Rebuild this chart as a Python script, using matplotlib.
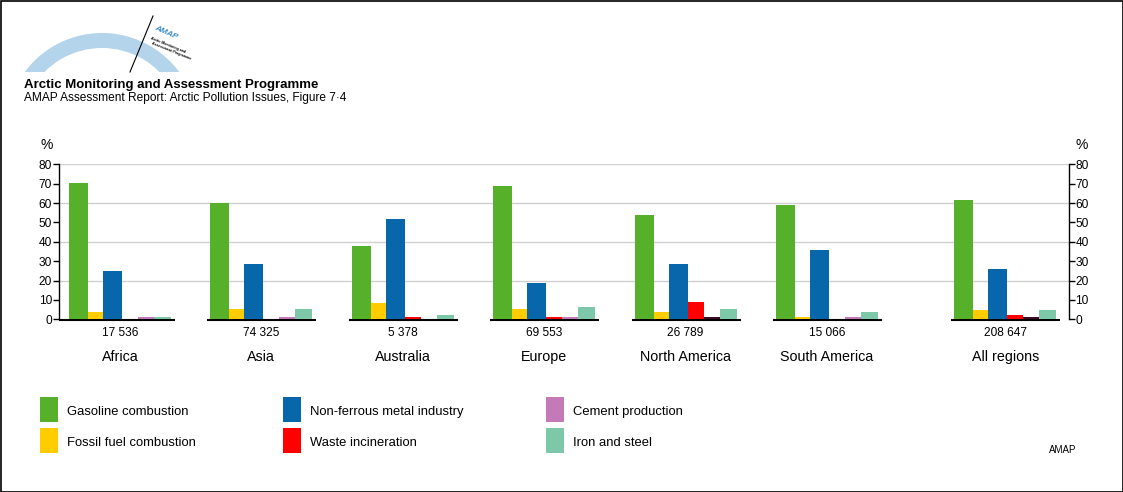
import matplotlib
matplotlib.use("Agg")
import matplotlib.pyplot as plt
from matplotlib.patches import Rectangle, Wedge

plt.rcParams["font.family"] = ["Liberation Sans", "DejaVu Sans"]

W, H = 1123, 492

regions = ["Africa", "Asia", "Australia", "Europe", "North America",
           "South America", "All regions"]
totals = ["17 536", "74 325", "5 378", "69 553", "26 789", "15 066", "208 647"]

# % of emissions per source
gasoline = [70.3, 60.0, 37.8, 68.8, 53.8, 59.0, 61.6]
fossil = [3.8, 5.3, 8.4, 5.3, 3.8, 1.3, 4.8]
nonferrous = [24.9, 28.5, 51.8, 18.7, 28.5, 35.8, 26.0]
waste = [0, 0, 1.2, 1.2, 8.9, 0, 2.4]
cement = [1.2, 1.2, 0, 1.2, 0, 1.2, 0]
other = [0, 0, 0, 0, 1.2, 0, 1.2]  # dark bar, not in legend
iron = [1.2, 5.3, 2.4, 6.4, 5.3, 3.8, 4.8]

labels = ["Gasoline combustion", "Fossil fuel combustion",
          "Non-ferrous metal industry", "Waste incineration",
          "Cement production", "Iron and steel"]
colors = ["#56b02a", "#ffcc00", "#0866aa", "#ff0000", "#c47ab8", "#7cc8a8"]

# group positions (All regions set a bit apart)
pos = [0, 1, 2, 3, 4, 5, 6.26]
U = 141.4  # px per group
xl = (59 - 120) / U
xr = (1068.5 - 120) / U

fig = plt.figure(figsize=(W / 100, H / 100), dpi=100)

# overlay for header, logo, border
bg = fig.add_axes([0, 0, 1, 1])
bg.set_xlim(0, W)
bg.set_ylim(0, H)
bg.axis("off")
arc = Wedge((102, H - 129), 96, 30, 150, width=15, color="#b3d4ea", lw=0)
bg.add_patch(arc)
clip = Rectangle((0, H - 72), W, 72, transform=bg.transData)
arc.set_clip_path(clip)
bg.plot([130, 153], [H - 72, H - 16], color="black", lw=0.8)
bg.text(166, H - 33, "AMAP", rotation=-24, color="#3b8dc5", fontsize=6,
        fontweight="bold", ha="center", va="center", style="italic")
bg.text(168, H - 45, "Arctic Monitoring and", rotation=-22, fontsize=2.6,
        fontweight="bold", ha="center", va="center")
bg.text(171, H - 51, "Assessment Programme", rotation=-22, fontsize=2.6,
        fontweight="bold", ha="center", va="center")
bg.text(24, H - 85, "Arctic Monitoring and Assessment Programme",
        fontsize=9.5, fontweight="bold", va="center")
bg.text(24, H - 98, "AMAP Assessment Report: Arctic Pollution Issues, Figure 7\u00b74",
        fontsize=8.6, va="center")
bg.text(1063, H - 450, "AMAP", fontsize=7, ha="center", va="center")
bg.add_patch(Rectangle((0.5, 0.5), W - 1, H - 1, fill=False, lw=1.2,
                       ec="black"))

# legend, drawn by hand
leg_x = [40, 283, 546]
leg_y = [397, 428]
for i, (lab, col) in enumerate(zip(labels, colors)):
    cx = leg_x[i // 2]
    cy = leg_y[i % 2]
    bg.add_patch(Rectangle((cx, H - cy - 25), 18, 25, color=col, lw=0))
    bg.text(cx + 27, H - cy - 15, lab, fontsize=9.4, va="center")

ax = fig.add_axes([59 / W, 1 - 319.3 / H, (1068.5 - 59) / W, 155 / H])
ax.patch.set_alpha(0)
ax.set_xlim(xl, xr)
ax.set_ylim(0, 80)

for g in [20, 40, 60, 80]:
    ax.axhline(g, color="#d0d0d0", lw=1, zorder=0)

series = [gasoline, fossil, nonferrous, waste, cement, iron]
offs = [-51, -32, -17, 2, 18, 34]
wids = [19, 15, 19, 16, 16, 17]
for vals, col, o, w in zip(series, colors, offs, wids):
    ax.bar([p + o / U for p in pos], vals, width=w / U, align="edge",
           color=col, lw=0, zorder=2)
ax.bar([p + 18 / U for p in pos], other, width=16 / U, align="edge",
       color="#3d0a2a", lw=0, zorder=2)

# baselines under each group
for i, p in enumerate(pos):
    left = xl if i == 0 else p - 54 / U
    ax.plot([left, p + 55 / U], [-0.4, -0.4], color="black", lw=1.5,
            zorder=1, clip_on=False, solid_capstyle="butt")
    ax.text(p, -6.9, totals[i], fontsize=8.6, ha="center", va="center")
    ax.text(p, -19.3, regions[i], fontsize=10.3, ha="center", va="center")

ax.set_xticks([])
ax.set_yticks(range(0, 81, 10))
ax.tick_params(axis="y", left=True, right=True, labelleft=True,
               labelright=True, direction="out", length=4, width=1,
               pad=1, labelsize=8.6)
for s in ["top", "bottom"]:
    ax.spines[s].set_visible(False)
ax.spines["left"].set_linewidth(1)
ax.spines["right"].set_linewidth(1)

bg.text(47, H - 145, "%", fontsize=10, ha="center", va="center")
bg.text(1082, H - 145, "%", fontsize=10, ha="center", va="center")

fig.savefig("out.png", dpi=100)
